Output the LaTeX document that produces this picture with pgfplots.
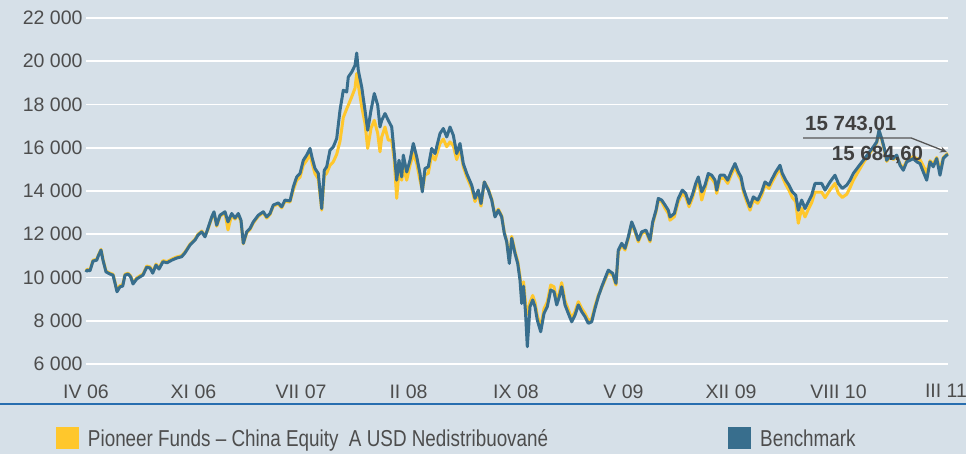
\documentclass[border=0pt]{standalone}
\usepackage{pgfplots}
\pgfplotsset{compat=1.18}
\usepackage{fontspec}
\setmainfont{Liberation Sans}
\newfontfamily\legfont{Liberation Sans}[FakeStretch=0.82]
\usetikzlibrary{arrows.meta}
\definecolor{bgc}{RGB}{214,224,232}
\definecolor{fundc}{RGB}{255,199,44}
\definecolor{benchc}{RGB}{56,110,141}
\definecolor{tickc}{RGB}{77,77,77}
\definecolor{annc}{RGB}{64,64,64}
\definecolor{sepc}{RGB}{40,110,175}
\begin{document}
\begin{tikzpicture}
\fill[bgc] (0pt,0pt) rectangle (966pt,454pt);
\begin{axis}[
  at={(86pt,90pt)}, anchor=south west,
  scale only axis, width=862pt, height=346pt,
  xmin=86, xmax=948, ymin=6000, ymax=22000,
  clip=false, scaled y ticks=false, scaled x ticks=false,
  axis line style={draw=none},
  major tick length=0pt,
  ymajorgrids, grid style={white, line width=1.8pt},
  ytick={6000,8000,10000,12000,14000,16000,18000,20000,22000},
  yticklabels={6~000,8~000,10~000,12~000,14~000,16~000,18~000,20~000,22~000},
  xtick={86,193.5,301,408.5,516,623.5,731,838.5,946},
  xticklabels={IV 06,XI 06,VII 07,II 08,IX 08,V 09,XII 09,VIII 10,III 11},
  tick label style={font=\fontsize{19.5pt}{23pt}\selectfont, text=tickc},
  xticklabel style={yshift=-17pt},
  legend columns=2,
  legend image code/.code={\fill[#1, draw=none] (0pt,-11pt) rectangle (23pt,11pt);},
  legend style={at={(-0.0348,-0.2153)}, anchor=west, draw=none, fill=none,
    inner sep=0pt, outer sep=0pt, nodes={inner sep=0pt},
    font=\legfont\fontsize{23pt}{27pt}\selectfont, text=tickc,
    /tikz/every odd column/.append style={column sep=9pt},
    /tikz/every even column/.append style={column sep=180pt}},
  legend cell align=left,
]
\addplot[color=fundc, line width=3pt, line join=round] coordinates {
(86,10290) (87,10380) (90,10350) (93,10800) (96.7,10840) (98,11000) (101,11300) (103,10840) (106,10300) (110,10200) (113,10150) (115,9790) (117,9400) (120,9630) (122.7,9660) (125,10150) (128,10200) (130.7,10070) (133,9750) (136.7,9980) (140,10080) (143,10160) (146.7,10530) (150,10490) (152.7,10250) (156,10620) (159,10440) (163,10780) (167,10730) (171.7,10850) (176.7,10950) (181.7,11010) (185,11180) (190,11540) (195,11770) (198,12000) (201.7,12150) (205,11920)
(208,12230) (211.7,12750) (214,12990) (216.7,12370) (220,12830) (225,12990) (228,12200) (231.7,12900) (235,12700) (238.3,12900) (241,12580) (243.3,11560) (246.7,12060) (250,12220) (253.3,12520) (258.3,12830) (263.3,12990) (266.7,12750) (270,12910) (273.3,13300) (278.3,13400) (281.7,13220) (285,13530) (290,13490)
(293.3,14050) (296.7,14500) (300,14640) (303.3,15200) (306.7,15420) (310,15700) (312.3,15250) (315,14800) (318.3,14560) (321.7,13120) (324.3,14700) (326.7,14820) (330,15190) (333.3,15350) (336.7,15700) (340,16300) (343.3,17400) (346.7,17800) (348.3,17970) (351.7,18350) (355,18750) (356.7,19430) (358.3,18900) (361.7,17900) (365,17130) (367.7,15970) (371,16900) (374.3,17270) (377.7,16670) (380,15810) (381.7,16500) (385,16960) (388.3,16350) (391.7,16350) (394.3,15420) (396.7,13660) (399,14960) (401.7,14500) (403.3,15120) (406.7,14500) (410,15190) (413.3,15730) (416.7,15270) (420,14500) (422.3,14040) (425,14740) (428.3,14820) (431.7,15670) (435,15430) (440,16200) (443.3,16400) (446.7,16050) (450,16270) (453.3,16100) (456.7,15450)
(460,16000) (463.3,15120) (466.7,14660) (471.7,14120) (475,13510) (478.3,13890) (481,13300) (484.3,14420) (488.3,14090) (491.7,13630) (495,12850) (498.3,13160) (501.7,12850) (504.3,12090) (506.7,11700) (509.3,10800) (511.7,11900) (515,11200) (517.7,10750) (520,10050) (521.7,9100) (523.5,9800)
(525.5,8800) (527.3,8300) (530,8850) (532.7,9170) (535,8850) (537.3,8230) (540.7,7700) (544,8550) (547.3,8870) (550.7,9650) (554,9570) (556.7,8930) (559.3,9300) (561.7,9760) (565,8920) (568.3,8520) (571.7,8120) (575,8420) (578.3,8880) (581.7,8570) (585,8340) (588.3,8020) (591.7,8080) (595,8680) (598.3,9180)
(601.7,9520) (605,9880) (608.3,10260) (612.7,10110) (616,9650) (618.3,11190) (621.7,11500) (625,11270) (628.3,11800) (631.7,12490) (635,12110) (638.3,11650) (641.7,12030) (646,12110) (650,11650) (652.7,12490) (656,13030) (658.3,13580) (661.7,13500)
(665,13200) (668.3,12960) (670,12650) (674.3,12810) (678.3,13510) (682.3,13890) (685.7,13740) (689,13270) (692.3,13660) (695.7,14200) (698.3,14500) (701.7,13580) (705,14120) (708.3,14660) (711.7,14580) (715,14350) (716.7,13890) (720,14580) (724.3,14580) (727.7,14350) (731,14730) (735,15120) (738.3,14730) (741,14500) (743.3,13970) (746.7,13510) (750,13110) (753.3,13580) (757.7,13430) (761.7,13810) (765,14270) (769,14120) (772.3,14430) (775.7,14730) (780,15040) (782.3,14660) (785.7,14300) (789,14030) (792.3,13700) (795.7,13500) (798.3,12510) (801.7,13200) (805,12800)
(808.3,13150) (811.7,13460) (815,13950) (821.7,13950) (825,13690) (830,14050) (835,14350) (838.3,13900) (842.3,13700) (846.7,13850) (850,14150) (853.3,14500) (858.3,14900)
(863.3,15300) (868.3,15650) (873.3,15990) (876.7,16220) (879,16750) (881.7,16380) (884.3,15900) (886.7,15370) (890,15600) (893.3,15450) (896.7,15600) (900,15250) (903.3,15050) (906.7,15400) (910,15480) (913.3,15600) (916.7,15500) (920,15450) (923.3,15150) (926.7,14850) (930,15400) (933.3,15250) (936.7,15550) (940,14950) (943.3,15550) (946.7,15700) (948,15743)
};
\addlegendentry{Pioneer Funds – China Equity\ \ A USD Nedistribuované}
\addplot[color=benchc, line width=3pt, line join=round] coordinates {
(86,10250) (87,10340) (90,10310) (93,10760) (96.7,10800) (98,10960) (101,11270) (103,10800) (106,10260) (110,10160) (113,10110) (115,9740) (117,9340) (120,9570) (122.7,9600) (125,10110) (128,10160) (130.7,10030) (133,9700) (136.7,9930) (140,10030) (143,10110) (146.7,10480) (150,10440) (152.7,10200) (156,10570) (159,10390) (163,10730) (167,10680) (171.7,10800) (176.7,10900) (181.7,10960) (185,11140) (190,11500) (195,11730) (198,11960) (201.7,12110) (205,11880)
(208,12280) (211.7,12800) (214,13040) (216.7,12420) (220,12880) (225,13040) (228,12570) (231.7,12960) (235,12750) (238.3,12960) (241,12650) (243.3,11580) (246.7,12110) (250,12270) (253.3,12570) (258.3,12880) (263.3,13040) (266.7,12800) (270,12960) (273.3,13350) (278.3,13450) (281.7,13270) (285,13580) (290,13540)
(293.3,14190) (296.7,14650) (300,14810) (303.3,15420) (306.7,15660) (310,15970) (312.3,15500) (315,15040) (318.3,14810) (321.7,13190) (324.3,14960) (326.7,15120) (330,15890) (333.3,16040) (336.7,16430) (340,17730) (343.3,18660) (346.7,18580) (348.3,19270) (351.7,19500) (355,19810) (356.7,20380) (358.3,19580) (361.7,18810) (365,17730) (367.7,16810) (371,17730) (374.3,18510) (377.7,17970) (380,16960) (381.7,17270) (385,17580) (388.3,17270) (391.7,16960) (394.3,15730) (396.7,14500) (399,15420) (401.7,14650) (403.3,15660) (406.7,14880) (410,15420) (413.3,16200) (416.7,15580) (420,14810) (422.3,13960) (425,15040) (428.3,15120) (431.7,15970) (435,15730) (440,16660) (443.3,16890) (446.7,16500) (450,16960) (453.3,16580) (456.7,15730)
(460,16200) (463.3,15270) (466.7,14810) (471.7,14270) (475,13660) (478.3,14040) (481,13420) (484.3,14420) (488.3,14040) (491.7,13580) (495,12800) (498.3,13110) (501.7,12800) (504.3,12040) (506.7,11650) (509.3,10650) (511.7,11810) (515,11110) (517.7,10650) (520,9880) (521.7,8800) (523.5,9600)
(525.5,8400) (527.3,6800) (530,8650) (532.7,8960) (535,8650) (537.3,8030) (540.7,7490) (544,8340) (547.3,8650) (550.7,9420) (554,9340) (556.7,8730) (559.3,9110) (561.7,9570) (565,8730) (568.3,8340) (571.7,7950) (575,8260) (578.3,8730) (581.7,8420) (585,8190) (588.3,7880) (591.7,7950) (595,8570) (598.3,9110)
(601.7,9570) (605,9960) (608.3,10340) (612.7,10190) (616,9730) (618.3,11270) (621.7,11580) (625,11350) (628.3,11880) (631.7,12570) (635,12190) (638.3,11730) (641.7,12110) (646,12190) (650,11730) (652.7,12570) (656,13110) (658.3,13660) (661.7,13580)
(665,13350) (668.3,13110) (670,12800) (674.3,12960) (678.3,13660) (682.3,14040) (685.7,13890) (689,13420) (692.3,13810) (695.7,14350) (698.3,14650) (701.7,13960) (705,14270) (708.3,14810) (711.7,14730) (715,14500) (716.7,14040) (720,14730) (724.3,14730) (727.7,14500) (731,14880) (735,15270) (738.3,14880) (741,14650) (743.3,14120) (746.7,13660) (750,13270) (753.3,13730) (757.7,13580) (761.7,13960) (765,14420) (769,14270) (772.3,14580) (775.7,14880) (780,15190) (782.3,14810) (785.7,14500) (789,14270) (792.3,13960) (795.7,13810) (798.3,13110) (801.7,13580) (805,13190)
(808.3,13500) (811.7,13810) (815,14350) (821.7,14350) (825,14040) (830,14420) (835,14730) (838.3,14350) (842.3,14120) (846.7,14270) (850,14500) (853.3,14810) (858.3,15120)
(863.3,15420) (868.3,15730) (873.3,16040) (876.7,16270) (879,16810) (881.7,16430) (884.3,15970) (886.7,15420) (890,15660) (893.3,15500) (896.7,15660) (900,15190) (903.3,14960) (906.7,15350) (910,15420) (913.3,15500) (916.7,15350) (920,15270) (923.3,14880) (926.7,14500) (930,15350) (933.3,15120) (936.7,15500) (940,14730) (943.3,15500) (946.7,15660) (948,15685)
};
\addlegendentry{Benchmark}
\draw[color={rgb,255:red,85;green,85;blue,85}, line width=1.3pt, -{Stealth[length=7pt,width=6pt]}]
  (axis cs:803,16455) -- (axis cs:911,16455) -- (axis cs:947,15800);
\node[anchor=base west, inner sep=0pt, text=annc, font=\bfseries\fontsize{20.5pt}{24pt}\selectfont] at (axis cs:805,16780) {15~743,01};
\node[anchor=base west, inner sep=0pt, text=annc, font=\bfseries\fontsize{20.5pt}{24pt}\selectfont] at (axis cs:831.7,15425) {15~684,60};
\end{axis}
\draw[sepc, line width=2pt] (0pt,50pt) -- (966pt,50pt);
\pgfresetboundingbox
\useasboundingbox (0pt,0pt) rectangle (966pt,454pt);
\end{tikzpicture}
\end{document}
